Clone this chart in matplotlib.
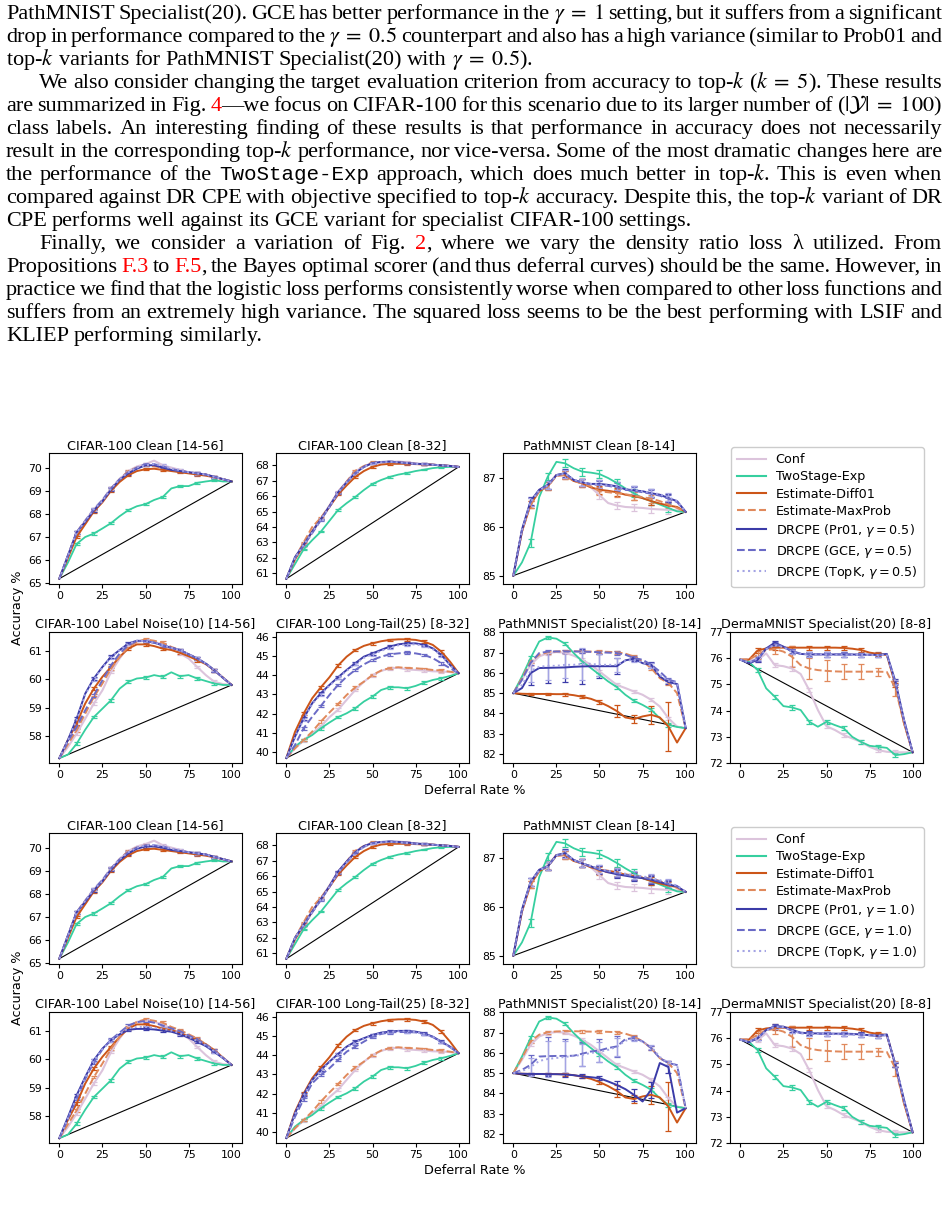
import re
import matplotlib
matplotlib.use("Agg")
from matplotlib import pyplot as plt
from matplotlib.lines import Line2D
from matplotlib.ticker import MultipleLocator

W, H = 949, 1210

# deferral rate grid (%)
X = [0, 5, 10, 15, 20, 25, 30, 35, 40, 45, 50, 55, 60, 65, 70, 75, 80, 85, 90, 95, 100]

# ---- CIFAR-100 Clean [14-56]
c14_conf = [65.2, 66.2, 67.2, 67.7, 68.2, 68.6, 69.1, 69.5, 69.85, 70.05, 70.15, 70.3, 70.1, 70.0, 69.9, 69.8, 69.75, 69.7, 69.6, 69.5, 69.4]
c14_two = [65.2, 65.9, 66.7, 67.0, 67.15, 67.37, 67.6, 67.9, 68.16, 68.33, 68.42, 68.6, 68.73, 69.1, 69.2, 69.2, 69.34, 69.4, 69.45, 69.4, 69.4]
c14_diff = [65.2, 66.1, 67.0, 67.55, 68.1, 68.5, 69.0, 69.38, 69.67, 69.85, 69.93, 69.95, 69.9, 69.85, 69.8, 69.75, 69.7, 69.65, 69.58, 69.5, 69.4]
c14_maxp = [65.2, 66.2, 67.2, 67.7, 68.15, 68.55, 69.1, 69.5, 69.85, 70.0, 70.1, 70.05, 70.0, 69.9, 69.85, 69.8, 69.75, 69.7, 69.6, 69.5, 69.4]
c14_pr01_05 = [65.2, 66.2, 67.2, 67.65, 68.15, 68.55, 69.05, 69.48, 69.75, 69.95, 70.1, 70.1, 70.0, 69.9, 69.85, 69.8, 69.75, 69.7, 69.6, 69.5, 69.4]
c14_gce_05 = [65.2, 66.2, 67.2, 67.7, 68.2, 68.6, 69.1, 69.5, 69.8, 70.0, 70.15, 70.15, 70.05, 69.95, 69.85, 69.8, 69.75, 69.7, 69.6, 69.5, 69.4]
c14_topk_05 = [65.2, 66.2, 67.2, 67.7, 68.2, 68.55, 69.1, 69.5, 69.8, 70.0, 70.1, 70.15, 70.1, 69.95, 69.9, 69.8, 69.75, 69.7, 69.6, 69.5, 69.4]
c14_pr01_10 = [65.2, 66.2, 67.2, 67.65, 68.15, 68.55, 69.05, 69.45, 69.75, 69.95, 70.05, 70.05, 70.0, 69.9, 69.85, 69.8, 69.75, 69.7, 69.6, 69.5, 69.4]
c14_gce_10 = [65.2, 66.2, 67.2, 67.7, 68.2, 68.6, 69.1, 69.5, 69.8, 70.0, 70.1, 70.1, 70.05, 69.95, 69.85, 69.8, 69.75, 69.7, 69.6, 69.5, 69.4]
c14_topk_10 = [65.2, 66.2, 67.2, 67.7, 68.2, 68.55, 69.1, 69.5, 69.8, 70.0, 70.1, 70.1, 70.05, 69.95, 69.9, 69.8, 69.75, 69.7, 69.6, 69.5, 69.4]

# ---- CIFAR-100 Clean [8-32]
c8_conf = [60.65, 61.95, 62.9, 63.75, 64.55, 65.4, 66.3, 66.95, 67.6, 67.95, 68.15, 68.2, 68.22, 68.25, 68.2, 68.12, 68.08, 68.04, 68.0, 67.96, 67.9]
c8_two = [60.65, 61.6, 62.55, 63.15, 63.7, 64.4, 65.1, 65.55, 65.95, 66.4, 66.8, 67.05, 67.25, 67.4, 67.5, 67.63, 67.72, 67.82, 67.88, 67.9, 67.9]
c8_diff = [60.65, 61.9, 62.8, 63.7, 64.5, 65.3, 66.1, 66.7, 67.25, 67.63, 67.9, 68.05, 68.1, 68.1, 68.1, 68.08, 68.06, 68.04, 68.0, 67.96, 67.9]
c8_maxp = [60.65, 62.0, 63.0, 64.0, 64.6, 65.35, 66.25, 66.95, 67.65, 67.95, 68.2, 68.2, 68.2, 68.2, 68.15, 68.1, 68.08, 68.04, 68.0, 67.96, 67.9]
c8_pr01_05 = [60.65, 62.05, 62.85, 63.7, 64.5, 65.35, 66.25, 66.9, 67.5, 67.9, 68.15, 68.22, 68.24, 68.2, 68.15, 68.1, 68.08, 68.04, 68.0, 67.96, 67.9]
c8_gce_05 = [60.65, 62.0, 62.8, 63.6, 64.45, 65.3, 66.2, 66.9, 67.5, 67.9, 68.15, 68.2, 68.22, 68.2, 68.15, 68.1, 68.08, 68.04, 68.0, 67.96, 67.9]
c8_topk_05 = [60.65, 62.0, 62.85, 63.65, 64.5, 65.3, 66.25, 66.9, 67.5, 67.9, 68.12, 68.2, 68.22, 68.2, 68.15, 68.1, 68.08, 68.04, 68.0, 67.96, 67.9]
c8_pr01_10 = [60.65, 62.0, 62.85, 63.7, 64.5, 65.35, 66.3, 66.95, 67.55, 67.95, 68.15, 68.22, 68.25, 68.22, 68.18, 68.12, 68.08, 68.04, 68.0, 67.96, 67.9]
c8_gce_10 = [60.65, 62.0, 62.8, 63.65, 64.45, 65.3, 66.2, 66.9, 67.5, 67.9, 68.15, 68.2, 68.22, 68.2, 68.15, 68.1, 68.08, 68.04, 68.0, 67.96, 67.9]
c8_topk_10 = [60.65, 62.0, 62.85, 63.65, 64.5, 65.3, 66.25, 66.9, 67.5, 67.9, 68.12, 68.2, 68.22, 68.2, 68.15, 68.1, 68.08, 68.04, 68.0, 67.96, 67.9]

# ---- PathMNIST Clean [8-14]
pc_conf = [85.0, 85.9, 86.5, 86.75, 86.85, 87.05, 87.07, 86.95, 86.88, 86.8, 86.64, 86.48, 86.43, 86.4, 86.39, 86.38, 86.36, 86.35, 86.34, 86.33, 86.3]
pc_two = [85.0, 85.27, 85.67, 86.6, 87.02, 87.32, 87.29, 87.19, 87.12, 87.1, 87.07, 86.99, 86.89, 86.78, 86.68, 86.58, 86.52, 86.45, 86.38, 86.31, 86.3]
pc_diff = [85.0, 85.9, 86.45, 86.72, 86.82, 87.05, 87.05, 86.93, 86.88, 86.8, 86.75, 86.73, 86.7, 86.65, 86.62, 86.58, 86.52, 86.47, 86.43, 86.4, 86.3]
pc_maxp = [85.0, 85.9, 86.45, 86.72, 86.82, 87.03, 87.05, 86.93, 86.88, 86.82, 86.72, 86.7, 86.68, 86.66, 86.63, 86.6, 86.57, 86.52, 86.45, 86.38, 86.3]
pc_pr01_05 = [85.0, 85.94, 86.52, 86.75, 86.85, 87.05, 87.09, 86.95, 86.9, 86.87, 86.87, 86.85, 86.82, 86.76, 86.74, 86.72, 86.68, 86.65, 86.58, 86.52, 86.3]
pc_gce_05 = [85.0, 85.92, 86.5, 86.74, 86.84, 87.05, 87.08, 86.95, 86.9, 86.86, 86.85, 86.83, 86.8, 86.75, 86.73, 86.7, 86.67, 86.63, 86.57, 86.5, 86.3]
pc_topk_05 = [85.0, 85.92, 86.5, 86.74, 86.84, 87.04, 87.08, 86.96, 86.9, 86.87, 86.86, 86.84, 86.82, 86.77, 86.75, 86.72, 86.69, 86.66, 86.6, 86.52, 86.3]
pc_pr01_10 = [85.0, 85.94, 86.5, 86.75, 86.82, 87.05, 87.09, 86.95, 86.88, 86.82, 86.75, 86.7, 86.66, 86.63, 86.6, 86.58, 86.55, 86.5, 86.45, 86.41, 86.3]
pc_gce_10 = [85.0, 85.92, 86.5, 86.74, 86.82, 87.04, 87.08, 86.95, 86.88, 86.82, 86.76, 86.72, 86.68, 86.65, 86.62, 86.6, 86.56, 86.52, 86.46, 86.42, 86.3]
pc_topk_10 = [85.0, 85.92, 86.5, 86.74, 86.82, 87.04, 87.08, 86.95, 86.88, 86.83, 86.77, 86.73, 86.7, 86.67, 86.64, 86.62, 86.58, 86.54, 86.48, 86.43, 86.3]

# ---- CIFAR-100 Label Noise(10) [14-56]
ln_conf = [57.2, 57.6, 58.07, 58.6, 59.14, 59.61, 60.26, 60.74, 61.15, 61.33, 61.37, 61.33, 61.24, 61.09, 60.92, 60.74, 60.44, 60.15, 59.91, 59.83, 59.8]
ln_two = [57.2, 57.33, 57.71, 58.21, 58.66, 58.96, 59.26, 59.67, 59.91, 60.03, 60.06, 60.15, 60.09, 60.25, 60.11, 60.15, 60.03, 59.94, 59.85, 59.8, 59.8]
ln_diff = [57.2, 57.85, 58.43, 59.14, 59.67, 60.09, 60.44, 60.8, 61.09, 61.24, 61.24, 61.18, 61.09, 61.04, 60.94, 60.82, 60.68, 60.54, 60.32, 60.06, 59.8]
ln_maxp = [57.2, 57.7, 58.19, 58.78, 59.37, 59.85, 60.38, 60.8, 61.15, 61.33, 61.42, 61.37, 61.3, 61.15, 61.04, 60.89, 60.74, 60.54, 60.32, 60.06, 59.8]
ln_pr01_05 = [57.2, 57.85, 58.6, 59.49, 60.03, 60.44, 60.8, 61.04, 61.27, 61.37, 61.36, 61.3, 61.21, 61.12, 61.04, 60.89, 60.74, 60.56, 60.32, 60.05, 59.8]
ln_gce_05 = [57.2, 57.8, 58.31, 58.9, 59.43, 59.97, 60.5, 60.92, 61.21, 61.36, 61.36, 61.3, 61.21, 61.12, 61.04, 60.89, 60.74, 60.56, 60.32, 60.05, 59.8]
ln_topk_05 = [57.2, 57.85, 58.55, 59.45, 60.0, 60.42, 60.78, 61.04, 61.25, 61.37, 61.36, 61.3, 61.22, 61.12, 61.04, 60.9, 60.75, 60.56, 60.33, 60.06, 59.8]
ln_pr01_10 = [57.2, 57.95, 58.72, 59.37, 59.97, 60.38, 60.68, 60.89, 61.05, 61.08, 61.08, 61.06, 61.02, 60.98, 60.89, 60.77, 60.62, 60.47, 60.26, 60.04, 59.8]
ln_gce_10 = [57.2, 57.9, 58.6, 59.3, 59.9, 60.35, 60.7, 60.95, 61.2, 61.32, 61.36, 61.3, 61.2, 61.1, 61.0, 60.85, 60.7, 60.52, 60.3, 60.05, 59.8]
ln_topk_10 = [57.2, 57.9, 58.65, 59.35, 59.95, 60.36, 60.68, 60.9, 61.1, 61.15, 61.15, 61.12, 61.08, 61.02, 60.93, 60.8, 60.65, 60.5, 60.28, 60.05, 59.8]

# ---- CIFAR-100 Long-Tail(25) [8-32]
lt_conf = [39.7, 40.2, 40.6, 41.0, 41.33, 41.82, 42.2, 42.72, 43.23, 43.66, 44.0, 44.22, 44.36, 44.38, 44.3, 44.27, 44.24, 44.2, 44.19, 44.16, 44.1]
lt_two = [39.7, 40.29, 40.63, 40.89, 41.24, 41.54, 41.82, 42.02, 42.28, 42.63, 42.89, 43.23, 43.37, 43.37, 43.32, 43.44, 43.61, 43.75, 43.84, 43.96, 44.1]
lt_diff = [39.7, 41.05, 42.0, 42.8, 43.37, 43.89, 44.5, 44.96, 45.3, 45.52, 45.65, 45.76, 45.83, 45.86, 45.86, 45.83, 45.74, 45.57, 45.22, 44.7, 44.1]
lt_maxp = [39.7, 40.2, 40.63, 41.07, 41.59, 42.06, 42.5, 42.97, 43.37, 43.66, 44.01, 44.24, 44.37, 44.41, 44.37, 44.36, 44.32, 44.27, 44.24, 44.18, 44.1]
lt_pr01_05 = [39.7, 40.8, 41.76, 42.54, 43.06, 43.49, 43.89, 44.27, 44.62, 44.96, 45.13, 45.31, 45.48, 45.6, 45.65, 45.65, 45.57, 45.39, 45.05, 44.53, 44.1]
lt_gce_05 = [39.7, 40.37, 41.24, 41.84, 42.4, 42.97, 43.49, 43.92, 44.27, 44.56, 44.79, 44.96, 45.08, 45.13, 45.17, 45.13, 45.05, 44.88, 44.62, 44.36, 44.1]
lt_topk_05 = [39.7, 40.75, 41.7, 42.5, 43.0, 43.45, 43.85, 44.22, 44.58, 44.9, 45.08, 45.26, 45.42, 45.55, 45.6, 45.6, 45.52, 45.35, 45.02, 44.5, 44.1]
lt_pr01_10 = [39.7, 40.98, 41.94, 42.71, 43.23, 43.66, 44.06, 44.44, 44.7, 44.88, 45.05, 45.17, 45.22, 45.26, 45.26, 45.22, 45.13, 44.96, 44.7, 44.44, 44.1]
lt_gce_10 = [39.7, 40.8, 41.7, 42.54, 42.97, 43.32, 43.75, 44.18, 44.44, 44.7, 44.96, 45.1, 45.18, 45.2, 45.2, 45.18, 45.1, 44.94, 44.68, 44.42, 44.1]
lt_topk_10 = [39.7, 40.95, 41.9, 42.68, 43.2, 43.62, 44.02, 44.4, 44.66, 44.85, 45.02, 45.14, 45.2, 45.24, 45.24, 45.2, 45.1, 44.94, 44.68, 44.42, 44.1]

# ---- PathMNIST Specialist(20) [8-14]
ps_conf = [85.0, 85.66, 86.4, 86.81, 86.98, 87.03, 87.0, 86.85, 86.65, 86.4, 86.07, 85.74, 85.41, 85.25, 85.08, 84.92, 84.67, 84.34, 83.76, 83.35, 83.27]
ps_two = [85.0, 85.82, 86.73, 87.55, 87.75, 87.69, 87.44, 86.98, 86.57, 86.24, 85.91, 85.58, 85.3, 84.92, 84.62, 84.42, 84.18, 83.76, 83.43, 83.33, 83.27]
ps_diff = [85.0, 84.97, 84.96, 84.96, 84.96, 84.95, 84.95, 84.9, 84.82, 84.72, 84.56, 84.36, 84.12, 83.8, 83.72, 83.85, 83.93, 83.8, 83.35, 82.56, 83.27]
ps_maxp = [85.0, 85.74, 86.57, 86.9, 87.02, 87.06, 87.07, 87.07, 87.06, 87.05, 87.05, 87.04, 87.02, 86.95, 86.81, 86.57, 86.24, 85.74, 85.5, 85.0, 83.27]
ps_pr01_05 = [85.0, 85.25, 85.99, 86.24, 86.25, 86.26, 86.27, 86.3, 86.32, 86.33, 86.33, 86.33, 86.33, 86.62, 86.7, 86.48, 86.4, 85.82, 85.55, 85.45, 83.27]
ps_gce_05 = [85.0, 85.66, 86.49, 86.98, 87.05, 87.06, 87.06, 87.06, 87.05, 87.04, 87.02, 87.0, 86.98, 86.9, 86.73, 86.65, 86.4, 86.07, 85.66, 85.55, 83.27]
ps_topk_05 = [85.0, 85.4, 86.1, 86.3, 86.35, 86.35, 86.4, 86.4, 86.45, 86.45, 86.4, 86.4, 86.4, 86.6, 86.65, 86.5, 86.35, 85.9, 85.6, 85.5, 83.27]
ps_pr01_10 = [85.0, 84.97, 84.96, 84.96, 84.95, 84.95, 84.93, 84.9, 84.84, 84.8, 84.75, 84.59, 84.42, 84.21, 83.93, 83.6, 84.18, 85.5, 85.3, 83.05, 83.27]
ps_gce_10 = [85.0, 85.16, 85.41, 85.82, 85.84, 85.85, 85.85, 85.86, 85.96, 86.07, 86.12, 86.24, 86.32, 86.68, 86.73, 86.57, 86.24, 85.74, 85.5, 85.4, 83.27]
ps_topk_10 = [85.0, 85.1, 85.3, 85.6, 85.7, 85.75, 85.8, 85.85, 85.9, 86.0, 86.05, 86.15, 86.3, 86.6, 86.7, 86.55, 86.3, 85.8, 85.5, 85.4, 83.27]

# ---- DermaMNIST Specialist(20) [8-8]
dm_conf = [75.95, 75.96, 75.94, 76.19, 75.74, 75.7, 75.61, 75.4, 74.78, 74.02, 73.4, 73.25, 73.06, 72.93, 72.8, 72.61, 72.48, 72.42, 72.4, 72.4, 72.4]
dm_two = [75.95, 75.87, 75.55, 74.85, 74.53, 74.17, 74.12, 74.02, 73.57, 73.38, 73.57, 73.44, 73.32, 72.99, 72.8, 72.65, 72.61, 72.57, 72.29, 72.33, 72.4]
dm_diff = [75.95, 75.95, 76.3, 76.38, 76.41, 76.41, 76.41, 76.41, 76.41, 76.41, 76.41, 76.41, 76.4, 76.37, 76.32, 76.22, 76.17, 76.13, 74.98, 73.51, 72.4]
dm_maxp = [75.95, 75.96, 76.13, 76.32, 76.35, 76.26, 76.06, 75.74, 75.61, 75.55, 75.52, 75.5, 75.49, 75.49, 75.49, 75.49, 75.49, 75.48, 74.85, 73.51, 72.4]
dm_pr01_05 = [75.95, 75.81, 75.94, 76.38, 76.6, 76.45, 76.26, 76.17, 76.15, 76.15, 76.15, 76.15, 76.15, 76.15, 76.14, 76.14, 76.13, 76.17, 75.11, 73.64, 72.4]
dm_gce_05 = [75.95, 75.83, 75.98, 76.35, 76.55, 76.45, 76.28, 76.18, 76.16, 76.16, 76.15, 76.15, 76.15, 76.14, 76.14, 76.13, 76.12, 76.15, 75.05, 73.6, 72.4]
dm_topk_05 = [75.95, 75.85, 76.0, 76.35, 76.52, 76.42, 76.25, 76.18, 76.15, 76.15, 76.15, 76.14, 76.14, 76.14, 76.13, 76.13, 76.12, 76.14, 75.1, 73.62, 72.4]
dm_pr01_10 = [75.95, 75.85, 76.0, 76.32, 76.47, 76.45, 76.32, 76.22, 76.19, 76.19, 76.18, 76.18, 76.18, 76.17, 76.15, 76.12, 76.1, 76.15, 74.98, 73.64, 72.4]
dm_gce_10 = [75.95, 75.87, 76.02, 76.3, 76.45, 76.42, 76.3, 76.2, 76.18, 76.18, 76.17, 76.17, 76.16, 76.15, 76.14, 76.12, 76.1, 76.12, 75.0, 73.6, 72.4]
dm_topk_10 = [75.95, 75.86, 76.0, 76.3, 76.45, 76.43, 76.3, 76.2, 76.18, 76.17, 76.17, 76.16, 76.16, 76.15, 76.14, 76.12, 76.1, 76.13, 75.02, 73.62, 72.4]

# error bars (std) where they are clearly visible, otherwise a small per-panel value
ps_diff_err = [0, 0.05, 0.05, 0.05, 0.05, 0.08, 0.08, 0.08, 0.08, 0.1, 0.1, 0.15, 0.3, 0.2, 0.2, 0.25, 0.45, 0.3, 1.2, 0.3, 0]
ps_pr01_05_err = [0, 0.1, 0.6, 0.7, 0.75, 0.7, 0.7, 0.8, 0.85, 0.7, 0.6, 0.5, 0.4, 0.2, 0.1, 0.1, 0.15, 0.1, 0.12, 0.1, 0]
ps_topk_05_err = [0, 0.1, 0.55, 0.65, 0.7, 0.65, 0.65, 0.75, 0.8, 0.65, 0.55, 0.45, 0.35, 0.2, 0.1, 0.1, 0.12, 0.1, 0.1, 0.1, 0]
ps_pr01_10_err = [0, 0.05, 0.05, 0.05, 0.08, 0.08, 0.1, 0.1, 0.1, 0.1, 0.1, 0.15, 0.2, 0.25, 0.3, 0.55, 0.4, 0.5, 0.3, 0.1, 0]
ps_gce_10_err = [0, 0.3, 0.5, 0.8, 0.95, 0.9, 0.85, 0.8, 0.6, 0.55, 0.55, 0.5, 0.5, 0.2, 0.1, 0.1, 0.1, 0.1, 0.1, 0.1, 0]
ps_topk_10_err = [0, 0.3, 0.45, 0.75, 0.9, 0.85, 0.8, 0.75, 0.55, 0.5, 0.5, 0.45, 0.45, 0.2, 0.1, 0.1, 0.1, 0.1, 0.1, 0.1, 0]
dm_maxp_err = [0, 0.1, 0.15, 0.2, 0.2, 0.3, 0.4, 0.4, 0.4, 0.4, 0.4, 0.35, 0.3, 0.3, 0.3, 0.15, 0.15, 0.1, 0.3, 0.1, 0]

titles = ["CIFAR-100 Clean [14-56]", "CIFAR-100 Clean [8-32]", "PathMNIST Clean [8-14]",
          "CIFAR-100 Label Noise(10) [14-56]", "CIFAR-100 Long-Tail(25) [8-32]",
          "PathMNIST Specialist(20) [8-14]", "DermaMNIST Specialist(20) [8-8]"]
prefixes = ["c14", "c8", "pc", "ln", "lt", "ps", "dm"]
small_err = [0.05, 0.05, 0.08, 0.05, 0.07, 0.08, 0.08]
ylims = [(64.97, 70.63), (60.31, 68.8), (84.83, 87.5), (57.03, 61.68),
         (39.44, 46.24), (81.55, 88.02), (71.99, 77.01)]
gammas = ["0.5", "1.0"]

names = ["conf", "two", "diff", "maxp", "pr01", "gce", "topk"]
labels = ["Conf", "TwoStage-Exp", "Estimate-Diff01", "Estimate-MaxProb",
          "DRCPE (Pr01, $\\gamma = {g}$)", "DRCPE (GCE, $\\gamma = {g}$)", "DRCPE (TopK, $\\gamma = {g}$)"]
colors = ["#dcc4dc", "#36cf9f", "#cc5518", "#e0895c", "#3b3ba8", "#6a6ac6", "#a4a4e4"]
styles = ["-", "-", "-", "--", "-", "--", ":"]
widths = [1.5, 1.3, 1.4, 1.4, 1.4, 1.4, 1.4]

g = globals()
err_mask = [(i % 2 == 0 and 0 < i < 20) for i in range(len(X))]

fig = plt.figure(figsize=(W / 100, H / 100), dpi=100)
renderer = fig.canvas.get_renderer()


def add_ax(left, top, w=193, h=131):
    return fig.add_axes([left / W, 1 - (top + h) / H, w / W, h / H])


def draw_panel(ax, p, gam):
    pre = prefixes[p]
    ys = []
    for n in names:
        if n in ("conf", "two", "diff", "maxp"):
            key = f"{pre}_{n}"
        else:
            key = f"{pre}_{n}_{'05' if gam == '0.5' else '10'}"
        ys.append((key, g[key]))
    y0 = ys[0][1]
    ax.plot([X[0], X[-1]], [y0[0], y0[-1]], color="black", lw=0.8, zorder=1)
    for (key, y), c, ls, lw in zip(ys, colors, styles, widths):
        e = g.get(key + "_err", small_err[p])
        ax.errorbar(X, y, yerr=e, errorevery=err_mask, color=c, ls=ls, lw=lw,
                    elinewidth=0.9, capsize=2, capthick=0.9, zorder=2)
    ax.set_title(titles[p], fontsize=9.2, pad=3)
    ax.set_xlim(-6, 106)
    ax.set_ylim(*ylims[p])
    ax.set_xticks([0, 25, 50, 75, 100])
    ax.yaxis.set_major_locator(MultipleLocator(1))
    ax.tick_params(labelsize=7.8, length=3, width=0.8, pad=2)
    for s in ax.spines.values():
        s.set_linewidth(0.8)


cols = [49, 276, 503, 730]
for b, gam in enumerate(gammas):
    off = 380 * b
    pos = [(cols[0], 453), (cols[1], 453), (cols[2], 453),
           (cols[0], 632), (cols[1], 632), (cols[2], 632), (cols[3], 632)]
    for p, (l, t) in enumerate(pos):
        ax = add_ax(l, t + off)
        draw_panel(ax, p, gam)
    handles = [Line2D([], [], color=c, ls=ls, lw=1.5) for c, ls in zip(colors, styles)]
    labs = [lb.format(g=gam) for lb in labels]
    fig.legend(handles, labs, loc="upper left", bbox_to_anchor=(731 / W, 1 - (447 + off) / H),
               borderaxespad=0, fontsize=9.2, labelspacing=0.32, handlelength=2.2,
               borderpad=0.5, framealpha=1, edgecolor="#cccccc")
    fig.text(18 / W, 1 - (608 + off) / H, "Accuracy %", rotation=90, ha="center", va="center", fontsize=9.2)
    fig.text(475 / W, 1 - (790 + off) / H, "Deferral Rate %", ha="center", va="center", fontsize=9.2)

# ---- page text above the figure
BODY = dict(fontfamily="Liberation Serif", fontsize=16.0, math_fontfamily="stix")
MONO = dict(fontfamily="Liberation Mono", fontsize=15.0)

page_lines = [
    ("PathMNIST Specialist(20). GCE has better performance in the $\\gamma\\;=\\;1$ setting, but it suffers from a significant", 0, True),
    ("drop in performance compared to the $\\gamma\\;=\\;0.5$ counterpart and also has a high variance (similar to Prob01 and", 0, True),
    ("top-$k$ variants for PathMNIST Specialist(20) with $\\gamma\\;=\\;0.5$).", 0, False),
    ("We also consider changing the target evaluation criterion from accuracy to top-$k$ ($k\\;=\\;5$). These results", 1, True),
    ("are summarized in Fig. [[4]]\u2014we focus on CIFAR-100 for this scenario due to its larger number of ($|\\mathcal{Y}|\\;=\\;100$)", 0, True),
    ("class labels. An interesting finding of these results is that performance in accuracy does not necessarily", 0, True),
    ("result in the corresponding top-$k$ performance, nor vice-versa. Some of the most dramatic changes here are", 0, True),
    ("the performance of the ``TwoStage-Exp`` approach, which does much better in top-$k$. This is even when", 0, True),
    ("compared against DR CPE with objective specified to top-$k$ accuracy. Despite this, the top-$k$ variant of DR", 0, True),
    ("CPE performs well against its GCE variant for specialist CIFAR-100 settings.", 0, False),
    ("Finally, we consider a variation of Fig. [[2]], where we vary the density ratio loss \u03bb utilized. From", 1, True),
    ("Propositions [[F.3]] to [[F.5]], the Bayes optimal scorer (and thus deferral curves) should be the same. However, in", 0, True),
    ("practice we find that the logistic loss performs consistently worse when compared to other loss functions and", 0, True),
    ("suffers from an extremely high variance. The squared loss seems to be the best performing with LSIF and", 0, True),
    ("KLIEP performing similarly.", 0, False),
]

LEFT, RIGHT, INDENT, SPACE = 6, 942, 33, 5.0


def put_line(text, base_y, indent, justify):
    words = []
    for w in text.split(" "):
        segs = []
        for part in re.split(r"(\[\[.*?\]\]|``.*?``)", w):
            if not part:
                continue
            if part.startswith("[["):
                st = dict(BODY, color="red")
                part = part[2:-2]
            elif part.startswith("``"):
                st = MONO
                part = part[2:-2]
            else:
                st = BODY
            t = fig.text(0, 1 - base_y / H, part, ha="left", va="baseline", **st)
            segs.append((t, t.get_window_extent(renderer).width))
        words.append(segs)
    total = sum(wd for segs in words for _, wd in segs)
    x0 = LEFT + (INDENT if indent else 0)
    gap = (RIGHT - x0 - total) / (len(words) - 1) if justify else SPACE
    x = x0
    for segs in words:
        for t, wd in segs:
            t.set_x(x / W)
            x += wd
        x += gap


for i, (txt, ind, just) in enumerate(page_lines):
    put_line(txt, 19 + 23 * i, ind, just)

fig.savefig("out.png", dpi=100)
